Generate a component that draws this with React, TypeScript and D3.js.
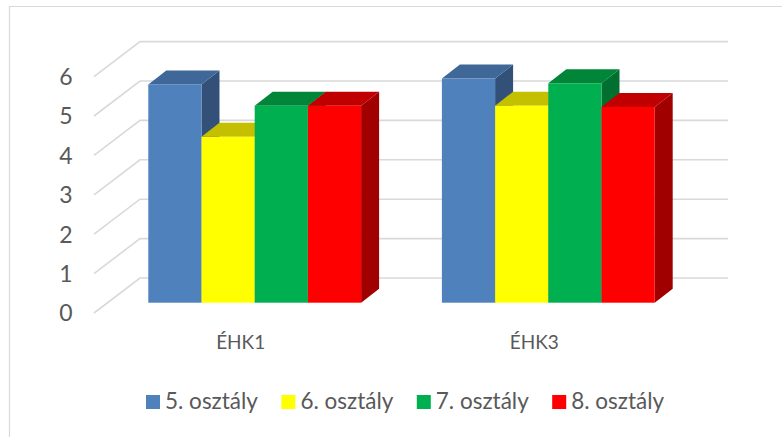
import React from "react";
import * as d3 from "d3";

const categories = ["ÉHK1", "ÉHK3"];
const seriesNames = ["5. osztály", "6. osztály", "7. osztály", "8. osztály"];
const grade5 = [5.54, 5.69];
const grade6 = [4.21, 5.0];
const grade7 = [5.0, 5.57];
const grade8 = [5.0, 4.97];
const yTicks = [0, 1, 2, 3, 4, 5, 6];

const seriesValues = [grade5, grade6, grade7, grade8];
const frontColors = ["#4f81bd", "#ffff00", "#00b050", "#ff0000"];
const topColors = ["#3f6797", "#c4c000", "#008539", "#c00000"];
const sideColors = ["#325078", "#c4c000", "#006f30", "#a00000"];

const DX = 18;
const DY = 14;
const FONT = "Lato,'Open Sans','Noto Sans',sans-serif";

export default function App() {
  const y = d3.scaleLinear().domain([0, 6]).range([302.7, 66.3]);
  const x0 = d3.scaleBand<string>().domain(categories).range([107.9, 695.1]).paddingInner(0).paddingOuter(0);
  const bw = 53.2;
  const groupW = bw * 4;
  const barX = (ci: number, si: number) => {
    const c = x0(categories[ci])! + x0.bandwidth() / 2;
    return c - groupW / 2 + si * bw;
  };
  const gridLeft = 94;
  const gridBack = 140;
  const gridRight = 728;
  const gy = (t: number) => y(t) + 10.3;

  return (
    <svg
      width={782}
      height={437}
      style={{ position: "absolute", left: 0, top: 0, background: "#fff" }}
      fontFamily={FONT}
    >
      <path d="M9.5,437 V6.5 H782" fill="none" stroke="#d9d9d9" strokeWidth={1.2} />
      {yTicks.map((t) => {
        const yf = gy(t);
        const yb = yf - 35;
        return (
          <path
            key={t}
            d={`M${gridLeft},${yf} L${gridBack},${yb} H${gridRight}`}
            fill="none"
            stroke="#d9d9d9"
            strokeWidth={1.6}
          />
        );
      })}
      {yTicks.map((t) => (
        <text key={t} x={66} y={gy(t) + 2.5} textAnchor="middle" dominantBaseline="middle" fontSize={23} fill="#595959">
          {t}
        </text>
      ))}
      {categories.map((cat, ci) => (
        <g key={cat}>
          {seriesValues.map((vals, si) => {
            const xl = barX(ci, si);
            const xr = xl + bw;
            const top = y(vals[ci]);
            const base = y(0);
            return (
              <g key={si}>
                <path
                  d={`M${xr},${top} L${xr + DX},${top - DY} V${base - DY} L${xr},${base} Z`}
                  fill={sideColors[si]}
                />
                <path
                  d={`M${xl},${top} L${xl + DX},${top - DY} H${xr + DX} L${xr},${top} Z`}
                  fill={topColors[si]}
                />
                <rect x={xl} y={top} width={bw} height={base - top} fill={frontColors[si]} />
              </g>
            );
          })}
          <text
            x={x0(cat)! + x0.bandwidth() / 2 - 14}
            y={344}
            textAnchor="middle"
            dominantBaseline="middle"
            fontSize={19}
            fill="#595959"
          >
            {cat}
          </text>
        </g>
      ))}
      {seriesNames.map((n, i) => {
        const lx = 146 + i * 135.4;
        return (
          <g key={n}>
            <rect x={lx} y={395} width={14} height={14} fill={frontColors[i]} />
            <text x={lx + 19} y={403} dominantBaseline="middle" fontSize={22.5} fill="#595959">
              {n}
            </text>
          </g>
        );
      })}
    </svg>
  );
}
